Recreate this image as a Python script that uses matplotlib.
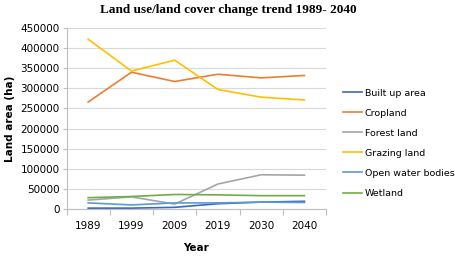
import numpy as np
import matplotlib
matplotlib.use("Agg")
import matplotlib.pyplot as plt

years = ["1989", "1999", "2009", "2019", "2030", "2040"]
built_up = [2000, 2000, 4000, 13000, 17000, 19000]
cropland = [266000, 340000, 317000, 335000, 326000, 332000]
forest = [22000, 30000, 12000, 62000, 85000, 84000]
grazing = [422000, 343000, 370000, 297000, 278000, 271000]
open_water = [15000, 10000, 15000, 15000, 17000, 16000]
wetland = [28000, 31000, 36000, 35000, 33000, 33000]

series = [
    ("Built up area", built_up, "#3a66c4"),
    ("Cropland", cropland, "#ed7d31"),
    ("Forest land", forest, "#a5a5a5"),
    ("Grazing land", grazing, "#ffc000"),
    ("Open water bodies", open_water, "#5b9bd5"),
    ("Wetland", wetland, "#70ad47"),
]

fig = plt.figure(figsize=(4.56, 2.57), dpi=100)
ax = fig.add_axes([0.146, 0.187, 0.569, 0.704])

x = np.arange(len(years))
for name, vals, col in series:
    ax.plot(x, vals, color=col, lw=1.2, label=name)

ax.set_xlim(-0.5, len(years) - 0.5)
ax.set_ylim(0, 450000)
ax.set_yticks(range(0, 450001, 50000))
ax.set_xticks(x)
ax.set_xticklabels(years)
ax.set_xticks(np.arange(-0.5, len(years)), minor=True)
ax.tick_params(axis="x", which="major", length=0, labelsize=7.5, pad=9)
ax.tick_params(axis="x", which="minor", length=4, color="#bfbfbf", width=0.8)
ax.tick_params(axis="y", length=3, color="#bfbfbf", width=0.8, labelsize=7.5, pad=2)
ax.grid(axis="y", color="#d9d9d9", lw=0.8)
ax.set_axisbelow(True)
for s in ["top", "right"]:
    ax.spines[s].set_visible(False)
for s in ["left", "bottom"]:
    ax.spines[s].set_color("#bfbfbf")
    ax.spines[s].set_linewidth(0.8)

ax.set_xlabel("Year", fontsize=7.5, fontweight="bold", labelpad=8)
ax.set_ylabel("Land area (ha)", fontsize=7.5, fontweight="bold", labelpad=4)

fig.suptitle("Land use/land cover change trend 1989- 2040", family="Liberation Serif",
             fontweight="bold", fontsize=9.5, x=0.5, y=0.985)

fig.legend(loc="upper left", bbox_to_anchor=(0.745, 0.67), frameon=False,
           fontsize=6.8, handlelength=2.0, handletextpad=0.25, labelspacing=1.17,
           borderaxespad=0)

fig.savefig("out.png", dpi=100)
